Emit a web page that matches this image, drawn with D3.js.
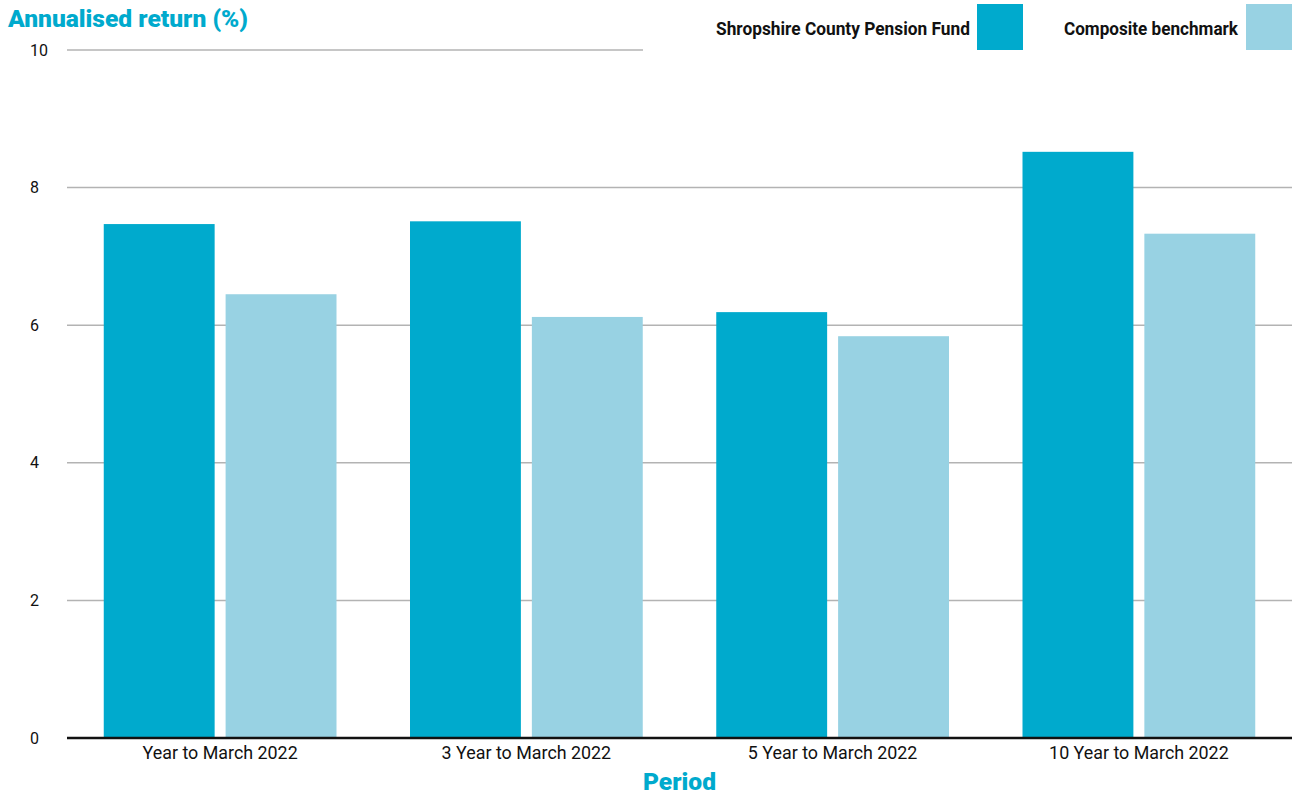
<!DOCTYPE html>
<html>
<head>
<meta charset="utf-8">
<script src="https://cdn.jsdelivr.net/npm/d3@7"></script>
<style>
  html, body { margin: 0; padding: 0; background: #fff; }
  svg { display: block; }
</style>
</head>
<body>
<svg id="chart" width="1296" height="798"></svg>
<script>
// Periods shown along the x axis
const periods = ["Year to March 2022", "3 Year to March 2022", "5 Year to March 2022", "10 Year to March 2022"];
// Series names (legend order)
const seriesNames = ["Shropshire County Pension Fund", "Composite benchmark"];
// Annualised returns (%) per period
const fundReturns = [7.47, 7.51, 6.19, 8.52];
const benchmarkReturns = [6.45, 6.12, 5.84, 7.33];
// Y axis ticks
const yTicks = [0, 2, 4, 6, 8, 10];

const colors = ["#00aacd", "#98d2e3"];
const blue = "#00aacd";
const font = "Roboto, 'Liberation Sans', Arial, sans-serif";

const svg = d3.select("#chart");
const margin = { left: 67, right: 4, top: 50, bottom: 60 };
const width = 1296, height = 798;
const x0 = d3.scaleBand().domain(periods).range([margin.left, width - margin.right])
  .paddingInner(0.24).paddingOuter(0.12);
const x1 = d3.scaleBand().domain(seriesNames).range([0, x0.bandwidth()]).paddingInner(0.09);
const y = d3.scaleLinear().domain([0, 10]).range([738, 50]);

const rows = periods.map((p, i) => ({ period: p, values: [fundReturns[i], benchmarkReturns[i]] }));

// Squeeze text horizontally to give a condensed look
function condense(sel, factor) {
  sel.each(function () {
    const w = this.getComputedTextLength();
    d3.select(this).attr("textLength", w * factor).attr("lengthAdjust", "spacingAndGlyphs");
  });
}

// Gridlines
const grid = svg.append("g").attr("class", "grid");
grid.selectAll("line").data(yTicks.filter(t => t > 0)).join("line")
  .attr("x1", margin.left).attr("x2", width - margin.right)
  .attr("y1", d => y(d)).attr("y2", d => y(d))
  .attr("stroke", "#b3b3b3").attr("stroke-width", 1.5);

// Bars
svg.append("g").selectAll("g").data(rows).join("g")
  .attr("transform", d => `translate(${x0(d.period)},0)`)
  .selectAll("rect").data(d => d.values.map((v, k) => ({ key: seriesNames[k], v, k })))
  .join("rect")
  .attr("x", d => x1(d.key))
  .attr("width", x1.bandwidth())
  .attr("y", d => y(d.v))
  .attr("height", d => y(0) - y(d.v))
  .attr("fill", d => colors[d.k]);

// Baseline
svg.append("line")
  .attr("x1", margin.left).attr("x2", width - margin.right)
  .attr("y1", y(0)).attr("y2", y(0))
  .attr("stroke", "#111").attr("stroke-width", 2.5);

// Y tick labels (left aligned)
svg.append("g").selectAll("text").data(yTicks).join("text")
  .attr("x", 30).attr("y", d => y(d)).attr("dy", "0.35em")
  .attr("font-family", font).attr("font-size", 16).attr("fill", "#111")
  .text(d => d);

// X axis labels
const xAxis = d3.axisBottom(x0).tickSize(0).tickPadding(0);
const xg = svg.append("g").attr("transform", `translate(0,${y(0)})`).call(xAxis);
xg.select(".domain").remove();
xg.selectAll("text")
  .attr("font-family", font).attr("font-size", 19).attr("fill", "#111")
  .attr("y", 21).attr("dy", null)
  .call(condense, 0.94);

// Axis titles
svg.append("text")
  .attr("x", 8).attr("y", 27)
  .attr("font-family", font).attr("font-weight", 900).attr("font-size", 24)
  .attr("textLength", 240).attr("lengthAdjust", "spacingAndGlyphs")
  .attr("fill", blue)
  .text("Annualised return (%)");

svg.append("text")
  .attr("x", (margin.left + width - margin.right) / 2).attr("y", 790)
  .attr("text-anchor", "middle")
  .attr("font-family", font).attr("font-weight", 900).attr("font-size", 24)
  .attr("textLength", 73).attr("lengthAdjust", "spacingAndGlyphs")
  .attr("fill", blue)
  .text("Period");

// Legend (white panel sits over the top gridline)
const legend = svg.append("g");
legend.append("rect").attr("x", 643).attr("y", 0).attr("width", width - 643).attr("height", 56).attr("fill", "#fff");
const legendItems = [
  { name: seriesNames[0], textEnd: 970, sq: 977, color: colors[0], len: 254 },
  { name: seriesNames[1], textEnd: 1238, sq: 1246, color: colors[1], len: 174 }
];
legendItems.forEach(it => {
  legend.append("text")
    .attr("x", it.textEnd).attr("y", 35)
    .attr("text-anchor", "end")
    .attr("font-family", font).attr("font-weight", 700).attr("font-size", 18)
    .attr("textLength", it.len).attr("lengthAdjust", "spacingAndGlyphs")
    .attr("fill", "#111")
    .text(it.name);
  legend.append("rect")
    .attr("x", it.sq).attr("y", 4).attr("width", 46).attr("height", 46)
    .attr("fill", it.color);
});
</script>
</body>
</html>
